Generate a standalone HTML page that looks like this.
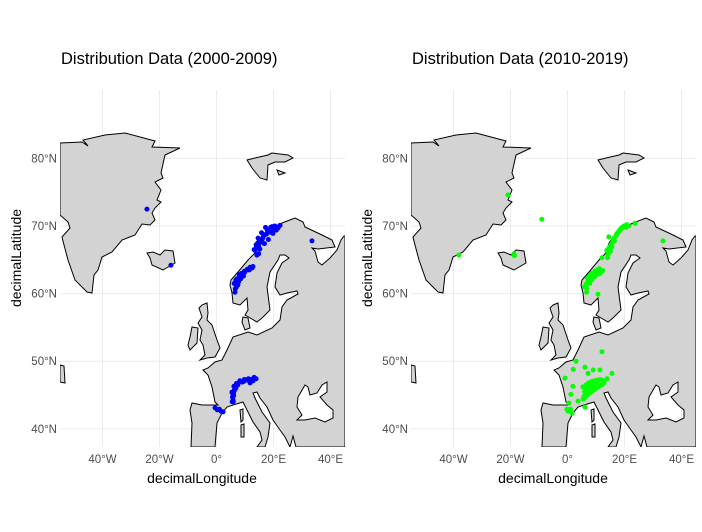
<!DOCTYPE html>
<html><head><meta charset="utf-8"><style>
body{margin:0;background:#fff}
svg{display:block;font-family:"Liberation Sans",sans-serif}
</style></head><body>
<svg id="chart" width="702" height="532" viewBox="0 0 702 532" xmlns="http://www.w3.org/2000/svg">
<defs>
<clipPath id="clipL"><rect x="60" y="90" width="285" height="357"/></clipPath>
</defs>
<rect width="702" height="532" fill="#fff"/>
<g id="panels"></g>
</svg>
<script>
const latTicks=[80,70,60,50,40];
const latLabels=["80°N","70°N","60°N","50°N","40°N"];
const lonTicks=[-40,-20,0,20,40];
const lonLabels=["40°W","20°W","0°","20°E","40°E"];
const titles=["Distribution Data (2000-2009)","Distribution Data (2010-2019)"];
const colors=["#0000ff","#00ff00"];
const blueLon=[21.6,18.8,17.0,15.3,13.9,13.5,14.2,10.0,8.2,6.8,7.5,6.5,12.5,22.3,20.0,19.5,17.8,16.2,15.0,14.5,11.5,9.0,7.8,7.0,6.6,33.5,-24.4,-16.0,5.8,5.4,6.1,8.2,10.7,12.8,13.9,6.0,7.0,9.5,11.8,-0.5,1.0,2.3,5.9,6.3,
 20.5,19.0,18.0,17.5,16.5,16.0,15.5,14.8,14.0,15.2,16.8,18.2,19.8,21.0,17.2,15.8,14.6,13.2,14.8,
 7.2,8.0,8.8,9.8,10.8,11.8,12.8,7.0,8.5,9.5,6.2,7.6,
 5.6,5.9,6.3,6.8,7.5,9.0,9.8,11.2,12.2,13.2,5.5,6.0,0.3,1.6];
const blueLat=[69.7,69.1,68.7,67.9,67.2,66.4,65.7,63.2,62.5,62.0,61.3,60.2,63.8,70.1,69.3,69.9,69.4,68.2,68.0,67.5,63.5,62.8,61.8,61.0,60.7,67.8,72.5,64.2,44.3,45.4,46.3,47.1,47.2,47.1,47.4,44.9,46.7,47.0,46.8,43.1,42.9,42.5,44.0,45.8,
 70.0,69.8,69.2,68.8,68.5,68.0,67.6,67.0,66.9,66.6,67.4,68.0,68.9,69.4,69.8,69.0,68.2,66.5,65.9,
 62.2,62.8,63.0,63.3,63.6,63.9,64.0,61.5,62.2,62.6,61.5,61.9,
 44.7,45.1,45.7,46.0,46.5,46.9,47.3,47.4,47.3,47.6,44.0,45.3,42.8,42.6];
const greenLon=[-20.9,-9.0,-38.1,-18.8,-18.6,19.1,23.7,15.6,13.8,14.5,12.1,14.1,33.5,7.2,6.7,10.7,12.4,10.7,17.0,18.5,20.5,16.5,21.5,8.5,9.5,11.5,6.0,7.8,12.1,3.0,2.0,6.1,9.0,11.4,7.2,15.6,-0.9,1.9,1.2,0.5,3.7,6.1,-0.2,1.6,5.4,6.5,7.5,8.5,9.5,10.5,11.5,12.5,13.9,6.0,7.0,8.0,9.0,10.0,5.8,6.5,7.2,8.2,12.0,
 19.8,18.8,18.0,17.2,16.4,15.8,15.2,14.6,16.2,17.6,19.2,20.8,15.0,14.2,
 7.0,7.8,8.6,9.6,10.4,11.2,6.5,7.2,8.2,9.4,6.8,
 5.5,6.2,7.0,7.8,8.8,9.8,10.8,11.8,12.8,6.4,7.4,8.4,9.4,10.4,6.8,7.6,8.6,0.2,1.0];
const greenLat=[74.6,71.0,65.7,65.9,65.6,69.7,70.4,66.9,66.4,68.4,65.3,65.3,67.8,61.7,60.2,62.9,63.4,59.9,68.5,69.5,69.8,67.8,70.0,62.0,62.5,63.0,61.0,61.5,51.4,50.0,48.8,49.1,48.7,48.7,48.2,48.2,47.5,46.3,45.1,43.8,44.1,43.2,42.9,42.3,46.2,46.5,46.8,47.0,47.1,47.2,47.3,47.1,47.4,45.5,45.8,46.0,46.3,46.6,44.8,45.0,45.3,45.6,46.5,
 70.0,69.6,69.2,68.8,68.2,67.6,67.2,66.8,68.0,69.0,69.8,70.2,66.2,65.8,
 62.3,62.6,63.0,63.3,63.5,63.7,61.4,61.9,62.3,62.8,60.8,
 44.4,44.7,45.0,45.3,45.6,45.9,46.2,46.5,46.8,46.0,46.3,46.6,46.9,47.0,45.4,45.8,46.2,42.6,42.9];
const seriesLon=[blueLon,greenLon], seriesLat=[blueLat,greenLat];
const NS="http://www.w3.org/2000/svg";
function X(lon){return 216.5+lon*2.85;}
function Y(lat){return 226-(lat-70)*6.76;}
const land=[
"60,143 82,142 88,146 83,140 105,135 125,133 155,141 152,147 180,148 165,155 161,173 163,178 155,182 161,190 157,200 161,202 155,208 152,213 155,220 150,225 142,224 135,235 122,240 112,252 102,257 98,270 94,275 92,293 87,292 75,280 68,260 64,245 62,237 70,228 68,222 60,215",
"247,160 255,158 268,155 272,153 288,155 293,158 285,162 275,162 268,165 267,180 260,178 252,168",
"277,170 285,173 279,175",
"147,253 153,252 160,255 165,250 173,251 175,263 163,270 152,265 150,258",
"202,305 207,303 208,313 207,320 212,325 217,340 220,348 215,357 207,358 200,360 205,355 203,345 200,340 202,330 198,323 202,317 199,308",
"192,327 198,328 197,343 190,350 188,345 190,337",
"60,365 64,366 65,383 60,382",
"240,410 243,409 243,420 241,422",
"241,425 244,424 244,437 241,437",
"240,305 233,303 232,293 230,285 231,280 238,272 248,260 255,253 258,243 268,230 282,223 295,218 303,222 305,227 322,235 332,240 335,247 318,249 312,248 315,251 318,262 322,265 330,258 337,250 341,240 344,236 345,236 345,447 296,447 293,436 290,447 285,437 280,430 273,420 267,407 260,398 257,392 253,393 255,398 262,412 270,423 268,437 265,447 257,447 262,440 260,432 253,422 248,412 243,402 233,405 227,407 222,413 217,423 215,447 191,447 192,423 190,410 192,403 202,405 218,405 215,402 212,387 208,375 203,370 208,368 215,362 222,360 227,350 233,337 248,332 257,335 272,328 280,320 282,307 287,300 298,294 297,291 287,293 280,295 275,287 277,273 282,263 289,258 285,255 280,255 278,260 270,272 267,287 270,310 262,318 257,322 245,315 248,310 247,298 M297,420 302,415 297,407 298,397 305,385 308,387 310,395 317,393 322,385 327,382 327,392 320,397 327,405 333,410 333,418 325,422 315,418 305,420",
"243,317 248,318 250,328 245,330 242,322"
];
const landNames=["greenland","svalbard","svalbard-islet","iceland","great-britain","ireland","newfoundland","corsica","sardinia","europe-mainland","denmark"];
const root=document.getElementById('panels');
function mk(tag,attrs,parent){const e=document.createElementNS(NS,tag);for(const k in attrs)e.setAttribute(k,attrs[k]);parent.appendChild(e);return e;}
for(let p=0;p<2;p++){
  const off=p*351;
  const g=mk('g',{transform:`translate(${off},0)`},root);
  
  
  const grid=mk('g',{},g);
  
  
  latTicks.forEach(v=>{mk('line',{x1:60,x2:345,y1:Y(v),y2:Y(v),stroke:'#ebebeb','stroke-width':1},grid);});
  lonTicks.forEach(v=>{mk('line',{y1:90,y2:447,x1:X(v),x2:X(v),stroke:'#ebebeb','stroke-width':1},grid);});
  const lg=mk('g',{'clip-path':'url(#clipL)'},g);
  
  
  land.forEach((pts,i)=>{
    const d=pts.split(' M').map(s=>'M'+s.trim().split(' ').join(' L')+' Z').join(' ');
    const el=mk('path',{d:d,fill:'#d3d3d3',stroke:'#000','stroke-width':1,'fill-rule':'evenodd'},lg);
    
    
  });
  const pg=mk('g',{'clip-path':'url(#clipL)'},g);
  
  
  const lons=seriesLon[p],lats=seriesLat[p];
  for(let i=0;i<lons.length;i++){
    const c=mk('circle',{cx:X(lons[i]),cy:Y(lats[i]),r:2.5,fill:colors[p]},pg);
    
    
  }
  latTicks.forEach((v,i)=>{
    const t=mk('text',{x:57,y:Y(v)+4,'text-anchor':'end','font-size':11.5,fill:'#4d4d4d'},g);
    t.textContent=latLabels[i];
    
    
  });
  lonTicks.forEach((v,i)=>{
    const t=mk('text',{x:X(v),y:463,'text-anchor':'middle','font-size':11.5,fill:'#4d4d4d'},g);
    t.textContent=lonLabels[i];
    
    
  });
  const tt=mk('text',{x:61,y:64,'font-size':16.5,fill:'#000'},g);
  tt.textContent=titles[p];
  
  
  const xt=mk('text',{x:202,y:483,'text-anchor':'middle','font-size':14,fill:'#000'},g);
  xt.textContent='decimalLongitude';
  
  
  const yt=mk('text',{x:0,y:0,'text-anchor':'middle','font-size':14,fill:'#000',transform:'translate(21,258) rotate(-90)'},g);
  yt.textContent='decimalLatitude';
  
  
}
</script>
</body></html>
